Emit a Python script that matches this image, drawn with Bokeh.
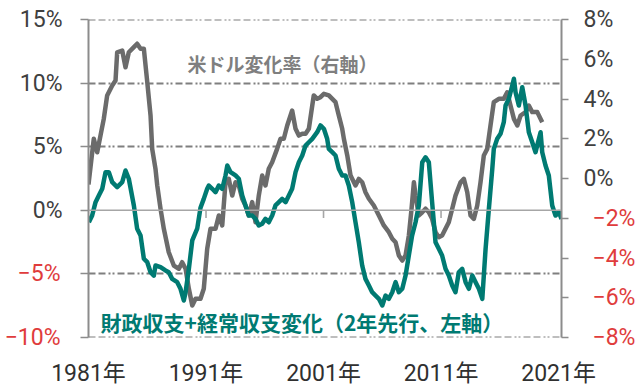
from bokeh.plotting import figure
from bokeh.models import Range1d, LinearAxis, FixedTicker, Span, Label
from bokeh.embed import file_html
from bokeh.resources import INLINE

# ---- data ----
usd_years = [1981.00, 1981.45, 1981.74, 1982.02, 1982.30, 1982.59, 1983.02, 1983.30, 1983.44, 1983.87,
             1984.15, 1984.43, 1984.86, 1985.14, 1985.43, 1985.71, 1986.00, 1986.28, 1986.42, 1986.70,
             1986.85, 1987.13, 1987.41, 1987.83, 1988.26, 1988.69, 1988.97, 1989.26, 1989.54, 1989.83,
             1990.11, 1990.53, 1990.81, 1991.10, 1991.38, 1991.81, 1992.09, 1992.38, 1992.66, 1992.94,
             1993.23, 1993.51, 1993.79, 1994.08, 1994.36, 1994.64, 1994.93, 1995.21, 1995.49, 1995.78,
             1996.06, 1996.34, 1996.63, 1997.05, 1997.34, 1997.62, 1997.91, 1998.33, 1998.62, 1998.90,
             1999.19, 1999.47, 1999.75, 2000.04, 2000.17, 2000.46, 2000.74, 2001.03, 2001.45, 2002.02,
             2002.30, 2002.59, 2002.73, 2003.02, 2003.30, 2003.72, 2004.00, 2004.29, 2004.57, 2004.86,
             2005.28, 2005.71, 2006.13, 2006.56, 2006.85, 2007.13, 2007.41, 2007.70, 2007.98, 2008.26,
             2008.49, 2008.69, 2008.83, 2009.11, 2009.40, 2009.68, 2009.96, 2010.24, 2010.53, 2010.81,
             2011.09, 2011.38, 2011.66, 2011.95, 2012.23, 2012.66, 2012.94, 2013.23, 2013.51, 2013.79,
             2014.08, 2014.36, 2014.64, 2014.93, 2015.21, 2015.49, 2015.92, 2016.34, 2016.63, 2016.91,
             2017.20, 2017.49, 2017.77, 2018.19, 2018.47, 2018.76, 2019.19, 2019.61]
usd_change = [-0.30, 2.00, 1.32, 2.16, 3.00, 4.18, 4.68, 4.93, 6.35, 6.44,
              5.60, 6.35, 6.61, 6.78, 6.53, 6.53, 4.85, 3.17, 1.49, 0.49,
              -0.35, -1.52, -2.53, -3.71, -4.38, -4.54, -4.21, -4.54, -5.55, -6.39,
              -6.05, -6.05, -5.55, -3.54, -2.53, -2.53, -1.86, -2.36, -0.19, -0.02,
              -0.86, -0.19, -0.35, -1.02, -1.36, -1.86, -1.19, -2.20, -0.86, 0.15,
              -0.35, 0.49, 0.82, 1.49, 2.00, 2.00, 2.67, 3.42, 2.50, 2.16,
              2.25, 2.25, 2.50, 3.67, 4.18, 4.01, 4.09, 4.26, 4.18, 3.84,
              3.17, 2.50, 2.00, 1.16, 0.15, -0.35, -0.02, -0.19, -0.69, -1.02,
              -1.36, -1.86, -2.36, -2.70, -3.03, -3.21, -3.87, -4.13, -3.87, -2.87,
              -1.52, -0.19, -0.86, -1.86, -1.70, -1.52, -1.70, -2.03, -2.70, -2.95,
              -2.87, -2.53, -2.20, -1.52, -0.86, -0.19, -0.02, -0.69, -1.86, -2.03,
              -1.36, -0.19, 1.16, 1.49, 2.67, 3.84, 4.01, 4.01, 4.34, 3.67,
              3.00, 2.67, 3.17, 3.34, 3.67, 3.34, 3.34, 2.83]

bal_years = [1981.03, 1981.31, 1981.60, 1981.88, 1982.17, 1982.45, 1982.73, 1983.02, 1983.44, 1983.87,
             1984.15, 1984.43, 1984.86, 1985.14, 1985.43, 1985.71, 1986.00, 1986.28, 1986.56, 1986.70,
             1987.13, 1987.55, 1987.83, 1988.12, 1988.55, 1988.83, 1989.11, 1989.26, 1989.54, 1989.83,
             1990.25, 1990.53, 1990.81, 1991.10, 1991.24, 1991.53, 1991.81, 1992.09, 1992.38, 1992.66,
             1992.81, 1993.09, 1993.51, 1993.79, 1994.08, 1994.36, 1994.64, 1994.93, 1995.21, 1995.49,
             1995.78, 1996.06, 1996.34, 1996.63, 1996.91, 1997.20, 1997.48, 1997.77, 1998.05, 1998.33,
             1998.62, 1998.90, 1999.19, 1999.47, 1999.75, 2000.04, 2000.46, 2000.74, 2001.03, 2001.31,
             2001.45, 2001.74, 2002.02, 2002.30, 2002.59, 2002.87, 2003.15, 2003.44, 2003.72, 2004.00,
             2004.29, 2004.57, 2004.86, 2005.14, 2005.43, 2005.71, 2006.00, 2006.28, 2006.56, 2006.85,
             2007.13, 2007.41, 2007.70, 2007.98, 2008.26, 2008.54, 2008.83, 2009.11, 2009.40, 2009.68,
             2009.96, 2010.24, 2010.53, 2010.81, 2011.09, 2011.38, 2011.66, 2011.95, 2012.23, 2012.51,
             2012.80, 2013.09, 2013.37, 2013.66, 2013.94, 2014.22, 2014.51, 2014.79, 2015.07, 2015.36,
             2015.49, 2015.78, 2016.06, 2016.34, 2016.49, 2016.77, 2017.06, 2017.20, 2017.34, 2017.62,
             2017.91, 2018.19, 2018.47, 2018.76, 2019.04, 2019.47, 2019.61, 2019.89, 2020.17, 2020.46,
             2020.74, 2021.03, 2021.25]
bal_change = [-0.94, -0.41, 0.64, 1.16, 1.69, 3.00, 3.00, 2.21, 1.82, 2.21,
              3.13, 2.48, 0.38, -1.45, -1.98, -3.81, -4.08, -4.87, -5.13, -4.34,
              -4.47, -4.73, -4.87, -5.39, -5.65, -6.17, -7.09, -6.44, -4.60, -2.37,
              -1.45, 0.20, 0.90, 1.69, 1.95, 1.69, 1.42, 1.95, 1.69, 2.74,
              3.52, 3.00, 2.74, 2.48, 1.16, 0.38, -0.41, -0.41, -0.67, -1.19,
              -1.06, -0.67, -0.94, -0.41, 0.38, 0.64, 0.90, 0.64, 1.16, 1.69,
              3.00, 3.78, 4.31, 5.09, 5.35, 5.62, 6.14, 6.67, 6.41, 5.62,
              4.83, 4.57, 4.31, 3.26, 2.74, 2.74, 1.95, 0.64, -0.94, -2.51,
              -4.34, -5.39, -5.91, -6.44, -6.70, -6.96, -7.48, -6.70, -6.96, -6.44,
              -5.65, -6.44, -6.17, -5.13, -3.55, -1.98, -0.94, 0.38, 3.78, 4.17,
              3.78, 0.64, -2.51, -3.03, -3.55, -4.60, -5.13, -5.91, -6.44, -4.87,
              -4.60, -5.65, -6.17, -5.13, -5.65, -6.17, -6.96, -3.03, 0.12, 3.26,
              4.83, 5.62, 6.01, 6.93, 8.24, 8.77, 9.81, 10.34, 9.28, 8.24,
              9.68, 8.24, 6.14, 5.35, 4.57, 6.14, 4.57, 3.52, 2.74, 0.38,
              -0.41, -0.15, -0.67]

left_ticks = [0, 5, 10, 15]
left_neg_ticks = [-10, -5]
right_ticks = [0, 2, 4, 6, 8]
right_neg_ticks = [-8, -6, -4, -2]
grid_ticks = [-5, 5, 10]
edge_grid = [-10, 15]
year_ticks = [1981, 1991, 2001, 2011, 2021]
year_labels = ["1981年", "1991年", "2001年", "2011年", "2021年"]
zero_line_ticks = [1991, 2001, 2011]

GRAY = "#6B6B6B"
TEAL = "#007A72"
RED = "#E03C3C"
LBL = "#404040"
AX = "#8C8C8C"
GRID = "#7F7F7F"
DASH = "7 3 7 3 2 2 2 3"
NUMFONT = "Roboto, Noto Sans CJK JP"
JPFONT = "Noto Sans CJK JP"

p = figure(width=640, height=391, output_backend="svg", toolbar_location=None,
           x_range=Range1d(1981, 2021.25), y_range=Range1d(-10, 15),
           min_border_left=88, min_border_right=79, min_border_top=19, min_border_bottom=54)
p.outline_line_color = None
p.background_fill_color = "white"
p.border_fill_color = "white"
p.extra_y_ranges = {"right": Range1d(-8, 8)}


def style_axis(ax, color, tick_out):
    ax.axis_line_color = AX
    ax.axis_line_width = 2
    ax.major_tick_line_color = AX
    ax.minor_tick_line_color = AX
    ax.major_tick_line_width = 1.5
    ax.minor_tick_line_width = 1.5
    ax.major_tick_in = 0
    ax.major_tick_out = tick_out
    ax.minor_tick_in = 0
    ax.minor_tick_out = tick_out
    ax.major_label_text_font = NUMFONT
    ax.major_label_text_font_size = "23px"
    ax.major_label_text_color = color


def label_only_axis(ax):
    ax.axis_line_color = None
    ax.major_tick_line_color = None
    ax.minor_tick_line_color = None
    ax.major_label_text_font = NUMFONT
    ax.major_label_text_font_size = "23px"
    ax.major_label_text_color = RED


# left axis (positive labels, all ticks)
ya = p.yaxis[0]
ya.ticker = FixedTicker(ticks=left_ticks, minor_ticks=left_neg_ticks)
ya.major_label_overrides = {t: f"{t}%" for t in left_ticks}
style_axis(ya, LBL, 8)
ya.major_label_standoff = 18

# left axis, negative labels in red (outer panel, pulled inwards)
yb = LinearAxis(ticker=FixedTicker(ticks=left_neg_ticks))
yb.major_label_overrides = {t: f"−{abs(t)}%" for t in left_neg_ticks}
label_only_axis(yb)
yb.major_label_standoff = -50
p.add_layout(yb, "left")

# right axis (positive labels, all ticks)
ra = LinearAxis(y_range_name="right",
                ticker=FixedTicker(ticks=right_ticks, minor_ticks=right_neg_ticks))
ra.major_label_overrides = {t: f"{t}%" for t in right_ticks}
style_axis(ra, LBL, 7)
ra.major_label_standoff = 15
p.add_layout(ra, "right")

rb = LinearAxis(y_range_name="right", ticker=FixedTicker(ticks=right_neg_ticks))
rb.major_label_overrides = {t: f"−{abs(t)}%" for t in right_neg_ticks}
label_only_axis(rb)
rb.major_label_standoff = -30
p.add_layout(rb, "right")

# bottom axis
xa = p.xaxis[0]
xa.ticker = FixedTicker(ticks=year_ticks)
xa.major_label_overrides = dict(zip(year_ticks, year_labels))
xa.axis_line_color = None
xa.major_tick_line_color = None
xa.minor_tick_line_color = None
xa.major_label_standoff = 16
xa.major_label_text_font = NUMFONT
xa.major_label_text_font_size = "23px"
xa.major_label_text_color = "#303030"

# grids
p.xgrid.visible = False
p.ygrid.ticker = FixedTicker(ticks=grid_ticks)
p.ygrid.grid_line_color = GRID
p.ygrid.grid_line_width = 2
p.ygrid.grid_line_dash = DASH
for g in edge_grid:
    p.add_layout(Span(location=g, dimension="width", line_color=GRID, line_width=2,
                      line_dash=DASH))

p.add_layout(Span(location=0, dimension="width", line_color="#A6A6A6", line_width=1.6))
p.segment(x0=zero_line_ticks, y0=[0] * len(zero_line_ticks), x1=zero_line_ticks,
          y1=[-0.6] * len(zero_line_ticks), line_color="#A6A6A6", line_width=1.6)

# series
p.line(usd_years, usd_change, y_range_name="right", line_color=GRAY, line_width=4.5,
       line_join="round")
p.line(bal_years, bal_change, line_color=TEAL, line_width=4.5, line_join="round")

# series annotations
p.add_layout(Label(x=1989.43, y=11.54, text="米ドル変化率（右軸）", text_font=JPFONT,
                   text_font_style="bold", text_font_size="19px", text_color="#7F7F7F",
                   text_baseline="middle"))
p.add_layout(Label(x=1982.02, y=-8.82, text="財政収支+経常収支変化（2年先行、左軸）",
                   text_font=JPFONT, text_font_style="bold", text_font_size="21px",
                   text_color=TEAL, text_baseline="middle"))

open("out.html", "w").write(file_html(p, INLINE))
